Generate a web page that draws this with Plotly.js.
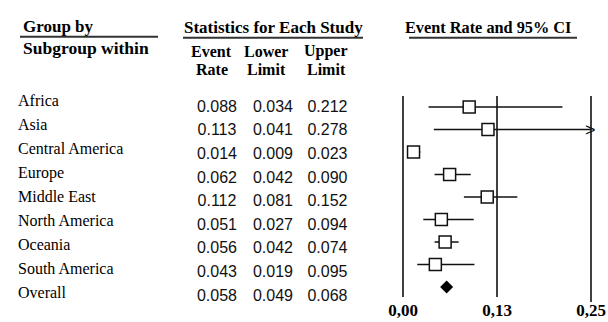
<!DOCTYPE html>
<html><head><meta charset="utf-8">
<script src="https://cdn.plot.ly/plotly-3.0.1.min.js"></script>
<style>html,body{margin:0;padding:0;background:#fff}</style>
</head><body><div id="chart" style="width:608px;height:322px"></div>
<script>
// ---- data ----
const studyGroups = ['Africa','Asia','Central America','Europe','Middle East','North America','Oceania','South America'];
const studyRate   = [0.088, 0.113, 0.014, 0.062, 0.112, 0.051, 0.056, 0.043];
const studyLower  = [0.034, 0.041, 0.009, 0.042, 0.081, 0.027, 0.042, 0.019];
const studyUpper  = [0.212, 0.278, 0.023, 0.090, 0.152, 0.094, 0.074, 0.095];
const overallGroup = ['Overall'];
const overallRate  = [0.058];
const overallLower = [0.049];
const overallUpper = [0.068];
const axisTickVals = [0, 0.125, 0.25];
const axisTickText = ['0,00', '0,13', '0,25'];

// ---- derived ----
const W = 608, H = 322;
const px = v => v / W, py = v => 1 - v / H;
const allGroups = studyGroups.concat(overallGroup);
const allRate = studyRate.concat(overallRate);
const allLower = studyLower.concat(overallLower);
const allUpper = studyUpper.concat(overallUpper);
const axisMax = axisTickVals[axisTickVals.length - 1];
const fmt = v => v.toFixed(3);

// category axis range so that row i sits at pixel p0 + s*i
const catRange = (p0, s, bottomPx, topPx) => [(bottomPx - p0) / s, (topPx - p0) / s];

const ciX = [], ciY = [];
studyGroups.forEach((g, i) => {
  ciX.push(studyLower[i], Math.min(studyUpper[i], axisMax), null);
  ciY.push(g, g, null);
});

const ink = '#111';
const serif = 'Liberation Serif, Times New Roman, serif';
const sans = 'Liberation Sans, Arial, sans-serif';

const traces = [
  { type: 'scatter', mode: 'lines', x: ciX, y: ciY, xaxis: 'x', yaxis: 'y',
    line: { color: ink, width: 1.5 }, hoverinfo: 'skip' },
  { type: 'scatter', mode: 'markers', x: studyRate, y: studyGroups, xaxis: 'x', yaxis: 'y',
    marker: { symbol: 'square', size: 12, color: '#fff', line: { color: ink, width: 1.5 } }, cliponaxis: false },
  { type: 'scatter', mode: 'markers', x: overallRate, y: overallGroup, xaxis: 'x', yaxis: 'y',
    marker: { symbol: 'diamond', size: 10, color: '#000', line: { width: 0 } }, cliponaxis: false },
  { type: 'scatter', mode: 'text', x: allGroups.map(() => 18), y: allGroups, text: allGroups,
    xaxis: 'x2', yaxis: 'y3', textposition: 'middle right', cliponaxis: false,
    textfont: { family: serif, size: 16, color: '#000' } },
  { type: 'scatter', mode: 'text', x: allGroups.map(() => 217), y: allGroups, text: allRate.map(fmt),
    xaxis: 'x2', yaxis: 'y2', textposition: 'middle center', cliponaxis: false,
    textfont: { family: sans, size: 16, color: ink } },
  { type: 'scatter', mode: 'text', x: allGroups.map(() => 273), y: allGroups, text: allLower.map(fmt),
    xaxis: 'x2', yaxis: 'y2', textposition: 'middle center', cliponaxis: false,
    textfont: { family: sans, size: 16, color: ink } },
  { type: 'scatter', mode: 'text', x: allGroups.map(() => 327.5), y: allGroups, text: allUpper.map(fmt),
    xaxis: 'x2', yaxis: 'y2', textposition: 'middle center', cliponaxis: false,
    textfont: { family: sans, size: 16, color: ink } }
];

const x0px = 403, scale = 752; // forest axis: value 0 at 403px, 752 px per unit
const axisBottomPx = 298;

const shapes = [];
axisTickVals.forEach((t, k) => {
  shapes.push({ type: 'line', xref: 'x', yref: 'paper', x0: t, x1: t,
    y0: py(k === axisTickVals.length - 1 ? 302 : 297), y1: py(96),
    line: { color: ink, width: 1.6 } });
});
[[20, 158, 36.7], [183, 363, 37.7], [409, 577, 37.7]].forEach(([a, b, y]) => {
  shapes.push({ type: 'line', xref: 'paper', yref: 'paper', x0: px(a), x1: px(b), y0: py(y), y1: py(y),
    line: { color: '#333', width: 2 } });
});

const hdr = (text, x, y, anchor, size) => ({
  text: '<b>' + text + '</b>', xref: 'paper', yref: 'paper', x: px(x), y: py(y), xanchor: anchor, yanchor: 'middle',
  showarrow: false, font: { family: serif, size: size || 17, color: '#000' }
});
const annotations = [
  hdr('Group by', 21, 26, 'left'),
  hdr('Subgroup within', 21, 48, 'left', 17.5),
  hdr('Statistics for Each Study', 273, 28, 'center'),
  hdr('Event', 212, 51, 'center', 16),
  hdr('Rate', 212, 69, 'center', 16),
  hdr('Lower', 266, 51, 'center', 16),
  hdr('Limit', 266, 69, 'center', 16),
  hdr('Upper', 326, 51, 'center', 16),
  hdr('Limit', 326, 69, 'center', 16),
  hdr('Event Rate and 95% CI', 488, 28, 'center', 16.3)
];
studyGroups.forEach((g, i) => {
  if (studyUpper[i] > axisMax) {
    annotations.push({ text: '>', xref: 'x', yref: 'y', x: axisMax, y: g, xanchor: 'center', yanchor: 'middle',
      xshift: -1, yshift: 0, showarrow: false, font: { family: sans, size: 18, color: ink } });
  }
});

const layout = {
  width: W, height: H, margin: { l: 0, r: 0, t: 0, b: 0 },
  paper_bgcolor: '#fff', plot_bgcolor: 'rgba(0,0,0,0)', showlegend: false,
  font: { family: serif, color: ink },
  xaxis: { domain: [0, 1], range: [-x0px / scale, (W - x0px) / scale], anchor: 'y',
    tickvals: axisTickVals, ticktext: axisTickText, showgrid: false, zeroline: false, showline: false,
    ticks: '', tickfont: { family: serif, size: 17, color: '#000', weight: 'bold' }, ticklabelstandoff: 2.5 },
  yaxis: { type: 'category', categoryarray: allGroups, domain: [py(axisBottomPx), 1], anchor: 'x',
    range: catRange(107, 22.5, axisBottomPx, 0), visible: false },
  xaxis2: { domain: [0, 1], range: [0, W], anchor: 'y2', visible: false },
  yaxis2: { type: 'category', categoryarray: allGroups, domain: [0, 1], anchor: 'x2',
    range: catRange(107.8, 23.6, H, 0), visible: false },
  yaxis3: { type: 'category', categoryarray: allGroups, domain: [0, 1], anchor: 'x2',
    range: catRange(101.8, 24, H, 0), visible: false },
  shapes: shapes,
  annotations: annotations
};

Plotly.newPlot('chart', traces, layout, { staticPlot: true, displayModeBar: false });
</script>
</body></html>
